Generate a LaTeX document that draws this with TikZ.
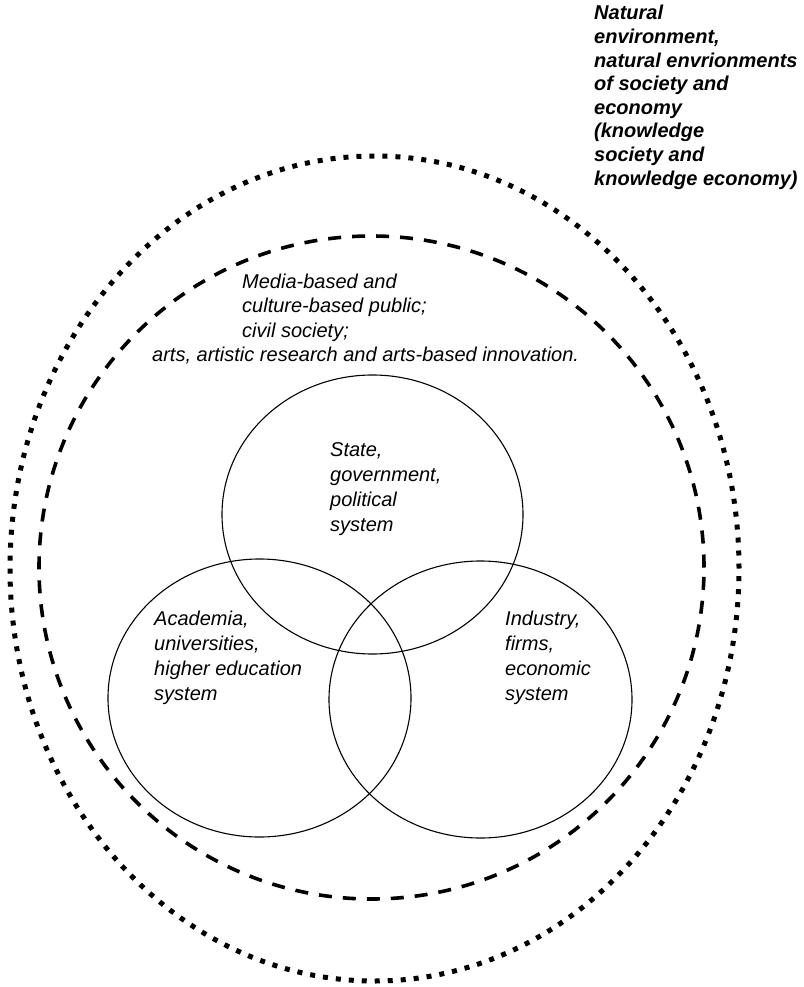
\documentclass[tikz,border=0pt]{standalone}
\usepackage{fontspec}
\setmainfont{Liberation Sans}
\usetikzlibrary{shapes.geometric}
\begin{document}
\begin{tikzpicture}[x=1pt,y=-1pt,
  ring/.style={draw=black, ellipse, inner sep=0pt, fill=none},
  dotring/.style={ring, line width=5pt, dash pattern=on 5pt off 8pt},
  dashring/.style={ring, line width=3.6pt, dash pattern=on 13pt off 11pt},
  setring/.style={ring, line width=1.1pt},
  lbl/.style={anchor=base west, inner sep=0pt, align=left,
    font=\fontsize{20}{25}\selectfont\itshape},
  lblb/.style={anchor=base west, inner sep=0pt, align=left,
    font=\fontsize{20}{23.6}\selectfont\bfseries\itshape},
]
\useasboundingbox (0,0) rectangle (803,987);

\node[dotring, minimum width=729pt, minimum height=825pt] (outer) at (374.5,568.5) {};
\node[dashring, minimum width=665pt, minimum height=663pt] (inner) at (371.5,567.5) {};
\node[setring, minimum width=301pt, minimum height=279pt] (state) at (372.5,514.5) {};
\node[setring, minimum width=303pt, minimum height=278pt] (academia) at (259.5,698) {};
\node[setring, minimum width=303pt, minimum height=277pt] (industry) at (480.5,699.5) {};

% anchors are at the baseline of the last line of each block
\node[lblb] (natural) at (594,185.2) {Natural\\environment,\\natural envrionments\\of society and\\economy\\(knowledge\\society and\\knowledge economy)};

\node[lbl, font=\fontsize{20}{24.4}\selectfont\itshape] (media) at (242,337.1) {Media-based and\\culture-based public;\\civil society;};
\node[lbl] (arts) at (152,361.5) {arts, artistic research and arts-based innovation.};

\node[lbl] (statetext) at (330,531) {State,\\government,\\political\\system};
\node[lbl] (academiatext) at (154,700) {Academia,\\universities,\\higher education\\system};
\node[lbl] (industrytext) at (505,700) {Industry,\\firms,\\economic\\system};
\end{tikzpicture}
\end{document}
